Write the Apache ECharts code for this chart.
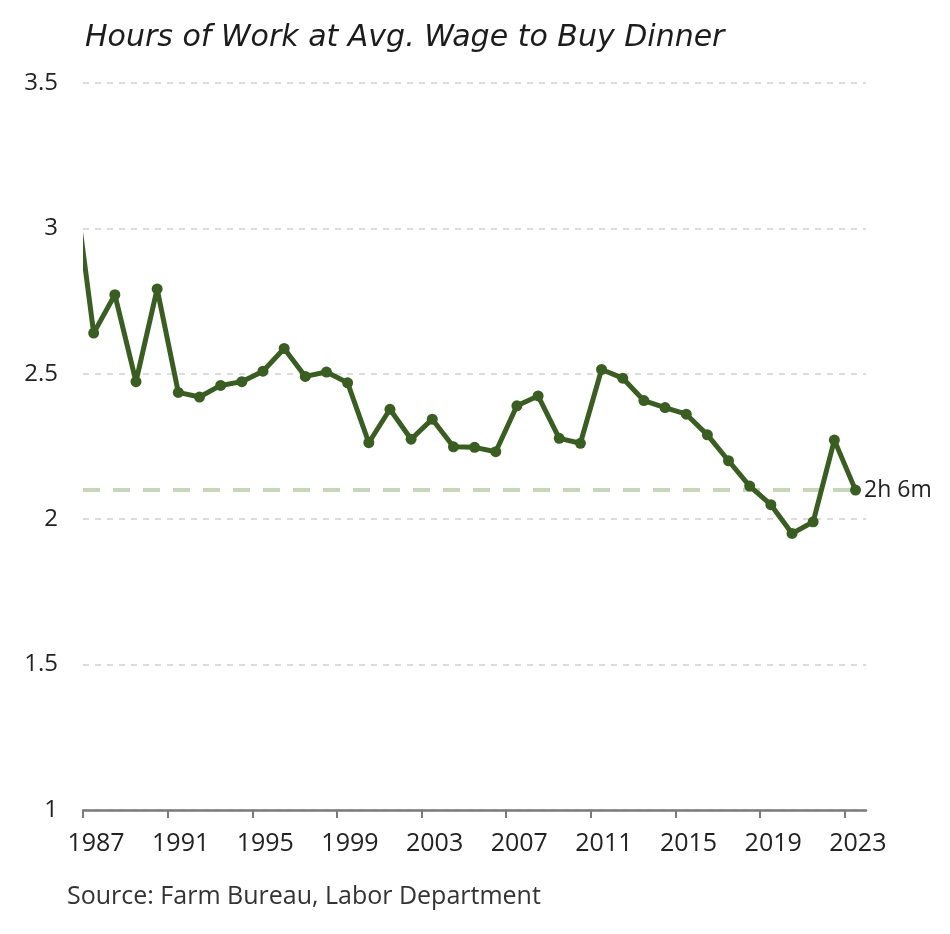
<!DOCTYPE html>
<html>
<head>
<meta charset="utf-8">
<script src="https://cdn.jsdelivr.net/npm/echarts@6/dist/echarts.min.js"></script>
<style>
  html, body { margin: 0; padding: 0; background: #fff; }
  #chart { width: 950px; height: 934px; }
</style>
</head>
<body>
<div id="chart"></div>
<script>
// Survey years (Farm Bureau July 4th cookout survey) and hours of work at avg. wage
const years = [1986, 1987, 1988, 1989, 1990, 1991, 1992, 1993, 1994, 1995, 1996, 1997, 1998, 1999,
  2000, 2001, 2002, 2003, 2004, 2005, 2006, 2007, 2008, 2009, 2010, 2011, 2012, 2013, 2014,
  2015, 2016, 2017, 2018, 2019, 2020, 2021, 2022, 2023];
const hours = [3.20, 2.640, 2.772, 2.473, 2.792, 2.436, 2.420, 2.460, 2.473, 2.509, 2.587, 2.491, 2.506, 2.469,
  2.263, 2.378, 2.275, 2.344, 2.249, 2.247, 2.232, 2.390, 2.424, 2.278, 2.261, 2.515, 2.485, 2.408, 2.384,
  2.361, 2.290, 2.201, 2.114, 2.050, 1.951, 1.991, 2.272, 2.100];
const surveyMonthDay = [6, 4]; // July 4th (month index, day)
const tickYears = [1987, 1991, 1995, 1999, 2003, 2007, 2011, 2015, 2019, 2023];
const yTicks = [1, 1.5, 2, 2.5, 3, 3.5];
const lastLabel = '2h 6m';
const titleText = 'Hours of Work at Avg. Wage to Buy Dinner';
const sourceText = 'Source: Farm Bureau, Labor Department';

function yearFraction(y) {
  const start = Date.UTC(y, 0, 1);
  const end = Date.UTC(y + 1, 0, 1);
  const d = Date.UTC(y, surveyMonthDay[0], surveyMonthDay[1]);
  return y + (d - start) / (end - start);
}
const seriesData = years.map((y, i) => [yearFraction(y), hours[i]]);
const last = seriesData[seriesData.length - 1];

const FONT = '"Open Sans", "DejaVu Sans", sans-serif';
const TITLE_FONT = '"DejaVu Sans", sans-serif';
const chart = echarts.init(document.getElementById('chart'), null, { renderer: 'canvas' });
chart.setOption({
  animation: false,
  backgroundColor: '#ffffff',
  title: [
    {
      text: titleText,
      left: 80, top: 18,
      textStyle: { fontFamily: TITLE_FONT, fontStyle: 'italic', fontWeight: 'normal', fontSize: 30, color: '#1c1c1c' }
    },
    {
      text: sourceText,
      left: 62, top: 879,
      textStyle: { fontFamily: FONT, fontWeight: 'normal', fontSize: 25, color: '#333333' }
    }
  ],
  grid: { left: 83, right: 84, top: 83, bottom: 124, containLabel: false },
  graphic: [
    // white margin left of the plot so the clipped 1986 segment starts exactly at the axis
    { type: 'rect', left: 64, top: 90, shape: { width: 19, height: 700 }, style: { fill: '#ffffff' }, z: 100, silent: true }
  ],
  xAxis: {
    type: 'value',
    min: tickYears[0],
    max: tickYears[tickYears.length - 1] + 1,
    axisLine: { show: true, lineStyle: { color: '#7a7a7a', width: 2.5 } },
    axisTick: { show: true, customValues: tickYears, length: 8, lineStyle: { color: '#7a7a7a', width: 2 } },
    axisLabel: {
      customValues: tickYears,
      formatter: v => String(Math.round(v)),
      fontFamily: FONT, fontSize: 25, color: '#222222',
      margin: 21,
      padding: [0, 0, 0, 26]
    },
    splitLine: { show: false }
  },
  yAxis: {
    type: 'value',
    min: yTicks[0],
    max: yTicks[yTicks.length - 1],
    interval: 0.5,
    axisLine: { show: false },
    axisTick: { show: false },
    axisLabel: {
      fontFamily: FONT, fontSize: 24, color: '#222222', margin: 25,
      formatter: v => String(v)
    },
    splitLine: {
      show: true,
      lineStyle: { color: '#dcdcdc', width: 2, type: [6, 6] }
    }
  },
  series: [
    {
      type: 'line',
      data: seriesData,
      clip: true,
      symbol: 'circle',
      symbolSize: 11,
      showSymbol: true,
      lineStyle: { color: '#3a5d22', width: 5 },
      itemStyle: { color: '#3a5d22' },
      z: 3,
      label: {
        show: true,
        position: 'right',
        distance: 3,
        fontFamily: FONT, fontSize: 23, color: '#222222',
        formatter: p => (p.dataIndex === seriesData.length - 1 ? lastLabel : '')
      },
      markLine: {
        silent: true,
        symbol: ['none', 'none'],
        label: { show: false },
        z: 1,
        lineStyle: { color: '#c7d6ba', width: 4, type: [17, 13] },
        data: [[{ coord: [tickYears[0], last[1]] }, { coord: [last[0], last[1]] }]]
      }
    }
  ]
});
</script>
</body>
</html>
